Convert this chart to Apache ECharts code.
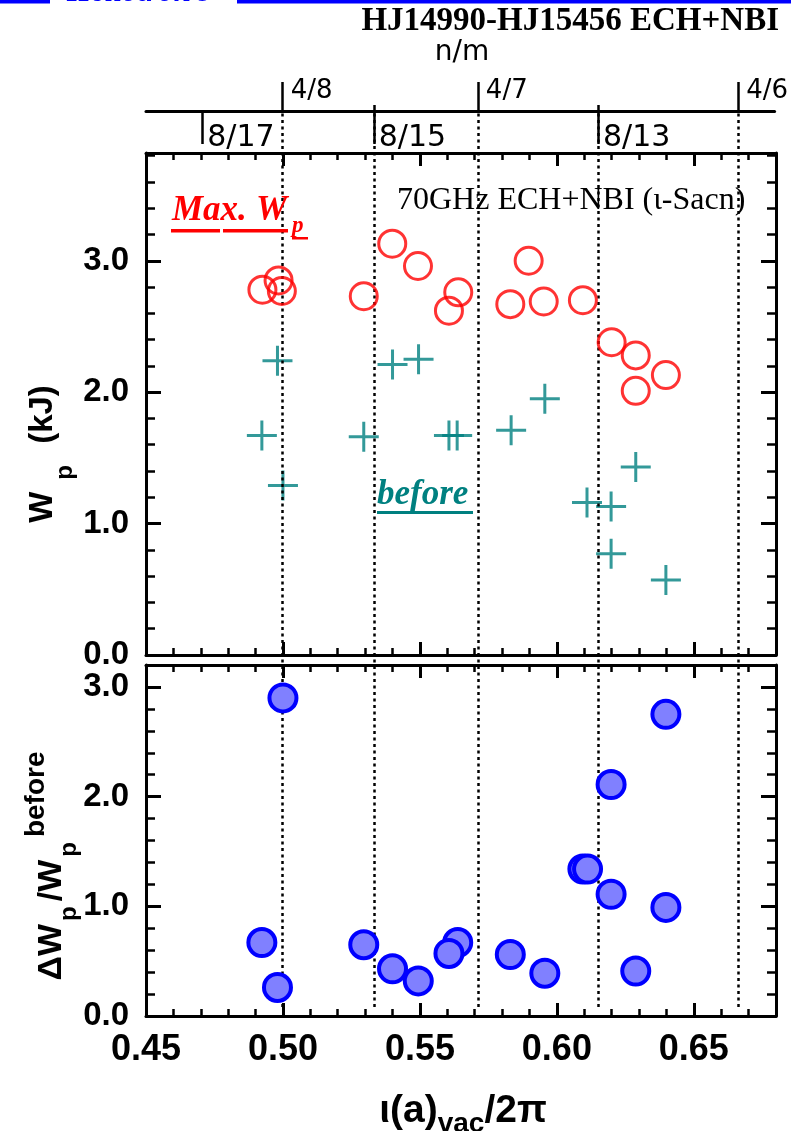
<!DOCTYPE html>
<html>
<head>
<meta charset="utf-8">
<script src="https://cdn.jsdelivr.net/npm/echarts@6/dist/echarts.min.js"></script>
<style>
  html, body { margin: 0; padding: 0; background: #fff; }
  #chart { width: 791px; height: 1131px; }
</style>
</head>
<body>
<div id="chart"></div>
<script>
// ι(a)vac/2π of each discharge and the stored energy reached (kJ)
const maxWpIota   = [0.4925, 0.4984, 0.4996, 0.5295, 0.5399, 0.5493, 0.5640, 0.5606, 0.5830, 0.5897, 0.5952, 0.6095, 0.6200, 0.6288, 0.6398, 0.6288];
const maxWpValues = [2.78,   2.85,   2.77,   2.73,   3.13,   2.96,   2.76,   2.62,   2.67,   3.00,   2.69,   2.70,   2.38,   2.28,   2.13,   2.01];

// stored energy before the transition (kJ)
const beforeIota   = [0.4980, 0.4923, 0.5000, 0.5295, 0.5400, 0.5495, 0.5606, 0.5636, 0.5833, 0.5956, 0.6110, 0.6198, 0.6288, 0.6198, 0.6398];
const beforeValues = [2.24,   1.67,   1.29,   1.66,   2.21,   2.25,   1.67,   1.67,   1.71,   1.95,   1.16,   1.13,   1.43,   0.77,   0.57];

// relative increase ΔWp / Wp(before)
const ratioIota   = [0.5000, 0.6398, 0.6198, 0.6095, 0.6112, 0.6198, 0.6398, 0.4923, 0.5295, 0.5638, 0.5606, 0.5830, 0.5400, 0.5956, 0.6288, 0.4980, 0.5494];
const ratioValues = [2.90,   2.75,   2.11,   1.34,   1.34,   1.11,   0.99,   0.67,   0.65,   0.67,   0.57,   0.56,   0.43,   0.39,   0.41,   0.26,   0.32];

// rational surfaces n/m marked on the top scale
const upperModeIota   = [4 / 8, 4 / 7, 4 / 6];
const upperModeLabels = ['4/8', '4/7', '4/6'];
const lowerModeIota   = [8 / 17, 8 / 15, 8 / 13];
const lowerModeLabels = ['8/17', '8/15', '8/13'];
const rationalLines   = [4 / 8, 8 / 15, 4 / 7, 8 / 13, 4 / 6];

// axis ranges and tick steps
const xRange = [0.45, 0.68];
const xMajor = 0.05, xMinor = 0.01;
const wpRange = [0, 3.82];
const ratioRange = [0, 3.2];
const yMajor = 1.0, yMinor = 0.2;

const chart = echarts.init(document.getElementById('chart'), null, { renderer: 'canvas' });

const SANS = '"Liberation Sans", Arial, sans-serif';
const SERIF = '"Liberation Serif", "Times New Roman", serif';
const DEJAVU = '"DejaVu Sans", sans-serif';

function pickLabel(v, values, labels) {
  let best = 0;
  values.forEach((u, i) => { if (Math.abs(u - v) < Math.abs(values[best] - v)) best = i; });
  return labels[best];
}

// bottom/top axes of one panel, each as a major + a minor tick layer
function frameX(gi, showLabels) {
  const out = [];
  ['bottom', 'top'].forEach(pos => {
    out.push({
      type: 'value', gridIndex: gi, position: pos, min: xRange[0], max: xRange[1], interval: xMajor,
      splitLine: { show: false },
      axisLine: { show: true, onZero: false, lineStyle: { color: '#000', width: 3 } },
      axisTick: { show: true, inside: true, length: 13, lineStyle: { color: '#000', width: 3 } },
      axisLabel: (showLabels && pos === 'bottom') ? {
        show: true, margin: 16, color: '#000', fontFamily: SANS, fontWeight: 'bold', fontSize: 36,
        showMaxLabel: false,
        formatter: v => (Math.abs(v / xMajor - Math.round(v / xMajor)) < 1e-6 ? v.toFixed(2) : '')
      } : { show: false }
    });
    out.push({
      type: 'value', gridIndex: gi, position: pos, min: xRange[0], max: xRange[1], interval: xMinor,
      splitLine: { show: false },
      axisLine: { show: false, onZero: false },
      axisTick: { show: true, inside: true, length: 7, lineStyle: { color: '#000', width: 2.5 } },
      axisLabel: { show: false }
    });
  });
  return out;
}

// left/right axes of one panel
function frameY(gi, range) {
  const out = [];
  ['left', 'right'].forEach(pos => {
    out.push({
      type: 'value', gridIndex: gi, position: pos, min: range[0], max: range[1], interval: yMajor,
      splitLine: { show: false },
      axisLine: { show: true, onZero: false, lineStyle: { color: '#000', width: 3 } },
      axisTick: { show: true, inside: true, length: 15, lineStyle: { color: '#000', width: 3 } },
      axisLabel: pos === 'left' ? {
        show: true, margin: 17, color: '#000', fontFamily: SANS, fontWeight: 'bold', fontSize: 33,
        showMaxLabel: false,
        formatter: v => (Math.abs(v - Math.round(v)) < 1e-6 ? v.toFixed(1) : '')
      } : { show: false }
    });
    out.push({
      type: 'value', gridIndex: gi, position: pos, min: range[0], max: range[1], interval: yMinor,
      splitLine: { show: false },
      axisLine: { show: false, onZero: false },
      axisTick: { show: true, inside: true, length: 9, lineStyle: { color: '#000', width: 2.5 } },
      axisLabel: { show: false }
    });
  });
  return out;
}

const xAxes = [].concat(
  frameX(0, false),            // 0..3   Wp panel
  frameX(1, true),             // 4..7   ratio panel
  [
    { // 8: n/m scale, 4/m family (ticks upward)
      type: 'value', gridIndex: 2, position: 'top', min: xRange[0], max: xRange[1],
      splitLine: { show: false },
      axisLine: { show: true, onZero: false, lineStyle: { color: '#000', width: 3 } },
      axisTick: { show: true, inside: false, length: 29, customValues: upperModeIota, lineStyle: { color: '#000', width: 2.5 } },
      axisLabel: {
        show: true, customValues: upperModeIota, margin: 7, align: 'left', padding: [0, 0, 0, 8],
        color: '#000', fontFamily: DEJAVU, fontSize: 26,
        formatter: v => pickLabel(v, upperModeIota, upperModeLabels)
      }
    },
    { // 9: n/m scale, 8/m family (ticks downward)
      type: 'value', gridIndex: 2, position: 'top', min: xRange[0], max: xRange[1],
      splitLine: { show: false },
      axisLine: { show: false, onZero: false },
      axisTick: { show: true, inside: true, length: 33, customValues: lowerModeIota, lineStyle: { color: '#000', width: 2.5 } },
      axisLabel: {
        show: true, inside: true, customValues: lowerModeIota, margin: 12, align: 'left', padding: [0, 0, 0, 5],
        color: '#000', fontFamily: DEJAVU, fontSize: 30,
        formatter: v => pickLabel(v, lowerModeIota, lowerModeLabels)
      }
    },
    { // 10: short stubs of the 8/15 and 8/13 ticks above the scale line
      type: 'value', gridIndex: 2, position: 'top', min: xRange[0], max: xRange[1],
      splitLine: { show: false },
      axisLine: { show: false, onZero: false },
      axisTick: { show: true, inside: false, length: 6, customValues: lowerModeIota.slice(1), lineStyle: { color: '#000', width: 2.5 } },
      axisLabel: { show: false }
    }
  ]
);

const yAxes = [].concat(
  frameY(0, wpRange),          // 0..3
  frameY(1, ratioRange),       // 4..7
  [{ type: 'value', gridIndex: 2, min: 0, max: 1, show: false }]   // 8
);

const crossPath = 'path://M-1.5,-15L1.5,-15L1.5,-1.5L15,-1.5L15,1.5L1.5,1.5L1.5,15L-1.5,15L-1.5,1.5L-15,1.5L-15,-1.5L-1.5,-1.5Z';

const zip = (xs, ys) => xs.map((x, i) => [x, ys[i]]);

// rotated rich-text helper for the vertical axis titles
function vText(x, y, text, rich) {
  return { type: 'text', x: x, y: y, rotation: Math.PI / 2, z: 10,
    style: { text: text, align: 'center', verticalAlign: 'middle', fill: '#000', rich: rich } };
}

const teal = '#008080';
const red = '#ff0000';

const option = {
  animation: false,
  backgroundColor: '#fff',
  grid: [
    { left: 146, top: 153, width: 630, height: 502 },
    { left: 146, top: 665, width: 630, height: 351 },
    { left: 146, top: 111, width: 630, height: 905 }
  ],
  xAxis: xAxes,
  yAxis: yAxes,
  series: [
    {
      name: 'rational', type: 'line', xAxisIndex: 8, yAxisIndex: 8, data: [], z: 1,
      markLine: {
        silent: true, symbol: 'none', animation: false, precision: 6,
        label: { show: false },
        lineStyle: { color: '#000', type: [3, 3.5], width: 2.5 },
        data: rationalLines.map(v => [{ coord: [v, 0.01] }, { coord: [v, 1] }])
      }
    },
    {
      name: 'before', type: 'scatter', xAxisIndex: 0, yAxisIndex: 0, z: 4,
      symbol: crossPath, symbolSize: 30,
      itemStyle: { color: teal },
      data: zip(beforeIota, beforeValues)
    },
    {
      name: 'Max. Wp', type: 'scatter', xAxisIndex: 0, yAxisIndex: 0, z: 5,
      symbol: 'circle', symbolSize: 27,
      itemStyle: { color: 'rgba(255,255,255,0)', borderColor: red, borderWidth: 3 },
      data: zip(maxWpIota, maxWpValues)
    },
    {
      name: 'ratio', type: 'scatter', xAxisIndex: 4, yAxisIndex: 4, z: 5,
      symbol: 'circle', symbolSize: 27,
      itemStyle: { color: '#8080ff', borderColor: '#0000ff', borderWidth: 4, opacity: 1 },
      data: zip(ratioIota, ratioValues)
    }
  ],
  graphic: [
    // header strip
    { type: 'rect', shape: { x: 0, y: 0, width: 50, height: 3.5 }, style: { fill: '#0000ff' } },
    { type: 'rect', shape: { x: 237, y: 0, width: 554, height: 3.5 }, style: { fill: '#0000ff' } },
    { type: 'text', x: 67, y: -7, style: { text: 'Heliotron J', fill: '#0000ff', align: 'left', verticalAlign: 'middle',
      font: 'italic bold 31px ' + SERIF } },
    // title
    { type: 'text', x: 779, y: 21, style: { text: 'HJ14990-HJ15456 ECH+NBI', fill: '#000', align: 'right', verticalAlign: 'middle',
      font: 'bold 33px ' + SERIF } },
    { type: 'text', x: 462, y: 53, style: { text: 'n/m', fill: '#000', align: 'center', verticalAlign: 'middle',
      font: '28px ' + DEJAVU } },
    // annotations inside the Wp panel
    { type: 'text', x: 397, y: 201, z: 10, style: { text: '70GHz ECH+NBI (ι-Sacn)', fill: '#000', align: 'left', verticalAlign: 'middle',
      font: '32px ' + SERIF } },
    { type: 'text', x: 172, y: 211, z: 10, style: { text: 'Max.', fill: red, align: 'left', verticalAlign: 'middle',
      font: 'italic bold 35px ' + SERIF } },
    { type: 'text', x: 256, y: 211, z: 10, style: { text: 'W', fill: red, align: 'left', verticalAlign: 'middle',
      font: 'italic bold 35px ' + SERIF } },
    { type: 'text', x: 292, y: 226, z: 10, style: { text: 'p', fill: red, align: 'left', verticalAlign: 'middle',
      font: 'italic bold 23px ' + SERIF } },
    { type: 'rect', z: 10, shape: { x: 171, y: 229, width: 49, height: 3.5 }, style: { fill: red } },
    { type: 'rect', z: 10, shape: { x: 223, y: 229, width: 65, height: 3.5 }, style: { fill: red } },
    { type: 'rect', z: 10, shape: { x: 292, y: 237, width: 16, height: 2.5 }, style: { fill: red } },
    { type: 'text', x: 377, y: 495, z: 10, style: { text: 'before', fill: teal, align: 'left', verticalAlign: 'middle',
      font: 'italic bold 35px ' + SERIF } },
    { type: 'rect', z: 10, shape: { x: 377, y: 511, width: 96, height: 3 }, style: { fill: teal } },
    // axis titles
    vText(42.5, 454, '{m|W}{s|p}{m| (kJ)}', {
      m: { fontFamily: SANS, fontWeight: 'bold', fontSize: 33, lineHeight: 33, verticalAlign: 'top', fill: '#000' },
      s: { fontFamily: SANS, fontWeight: 'bold', fontSize: 24, lineHeight: 24, verticalAlign: 'top', padding: [27, 12, 0, 12], fill: '#000' }
    }),
    vText(39, 866, '{m|ΔW}{s|p}{m|/W}{s|p}{u|before}', {
      m: { fontFamily: SANS, fontWeight: 'bold', fontSize: 34, lineHeight: 34, verticalAlign: 'top', padding: [13, 0, 0, 0], fill: '#000' },
      s: { fontFamily: SANS, fontWeight: 'bold', fontSize: 24, lineHeight: 24, verticalAlign: 'top', padding: [35, 5, 0, 3], fill: '#000' },
      u: { fontFamily: SANS, fontWeight: 'bold', fontSize: 28, lineHeight: 28, verticalAlign: 'top', fill: '#000' }
    }),
    { type: 'text', x: 463, y: 1111, z: 10, style: {
      text: '{m|ι(a)}{s|vac}{m|/2π}', align: 'center', verticalAlign: 'middle', fill: '#000',
      rich: {
        m: { fontFamily: SANS, fontWeight: 'bold', fontSize: 39, lineHeight: 39, verticalAlign: 'top', fill: '#000' },
        s: { fontFamily: SANS, fontWeight: 'bold', fontSize: 28, lineHeight: 28, verticalAlign: 'top', padding: [19, 0, 0, 0], fill: '#000' }
      } } }
  ]
};

chart.setOption(option);
</script>
</body>
</html>
